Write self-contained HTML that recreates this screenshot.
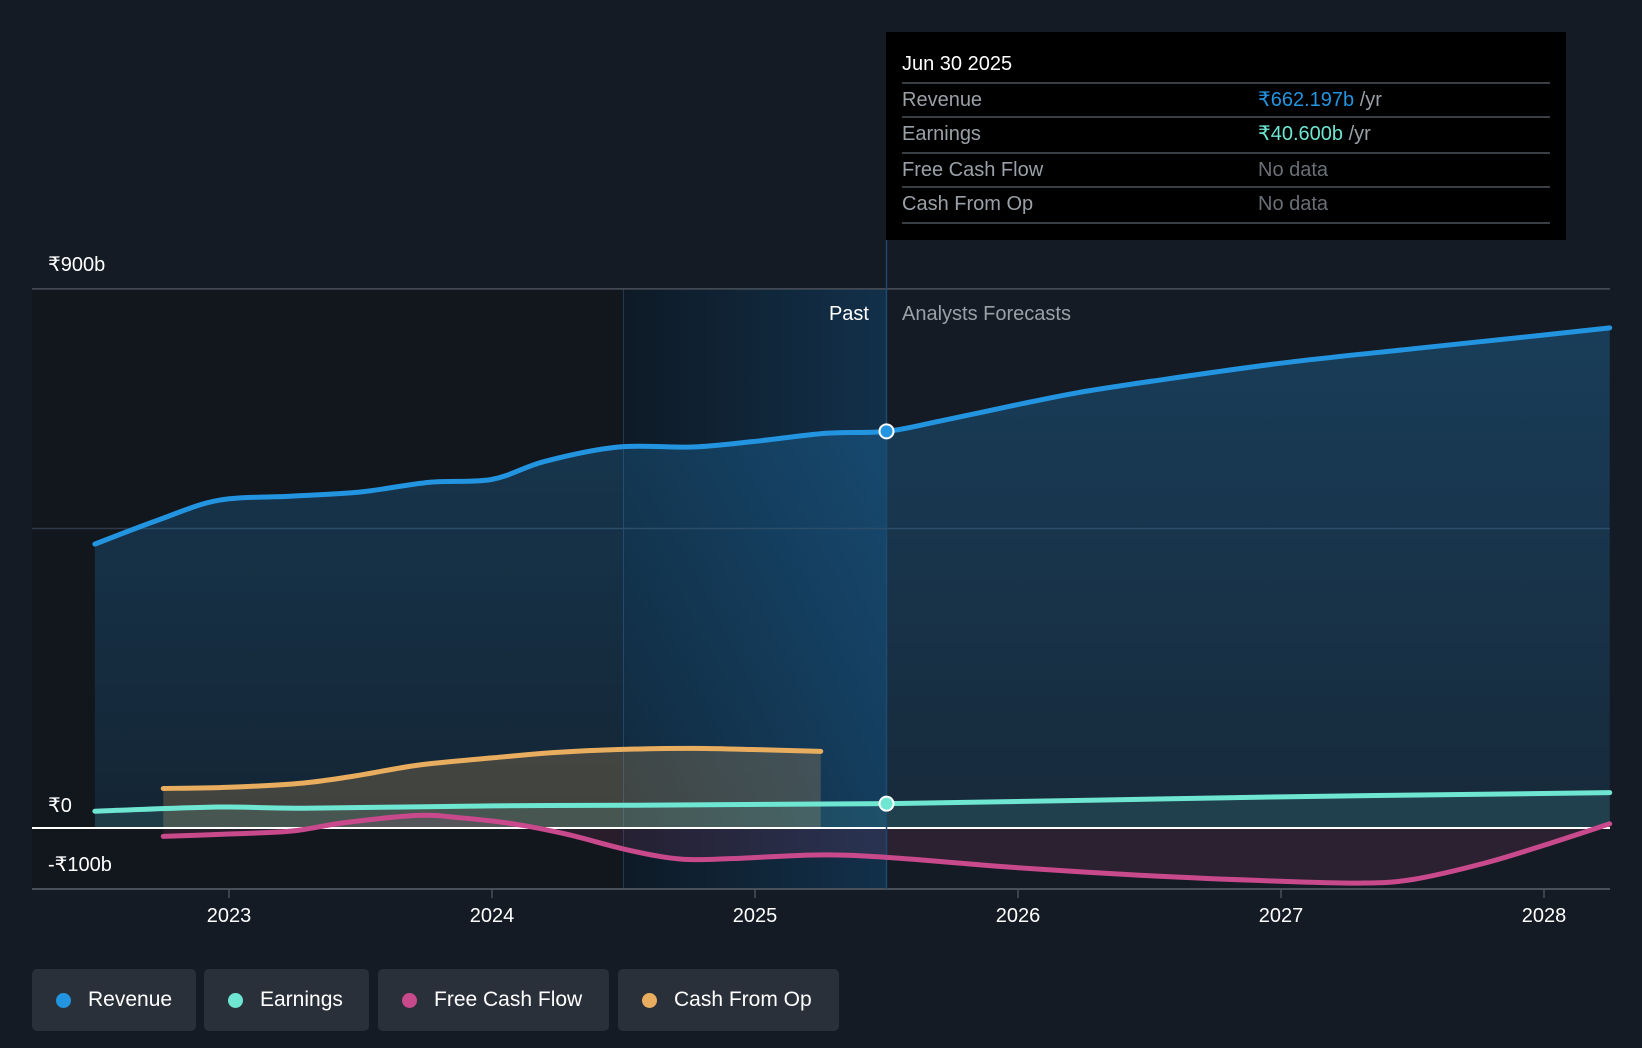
<!DOCTYPE html>
<html><head><meta charset="utf-8">
<style>
body{margin:0;background:#151b24;width:1642px;height:1048px;overflow:hidden;font-family:"Liberation Sans",sans-serif;}
svg{position:absolute;left:0;top:0}
.legend{position:absolute;top:969px;height:62px;background:#2a303a;border-radius:5px;color:#fff;font-size:21px;line-height:62px;box-sizing:border-box;padding-left:56px}
.legend i{position:absolute;left:24px;top:24px;width:15px;height:15px;border-radius:50%}
</style></head><body>
<svg id="chart" width="1642" height="1048"></svg>
<div class="legend" style="left:32px;width:164px"><i style="background:#2394e0"></i>Revenue</div>
<div class="legend" style="left:204px;width:165px"><i style="background:#6ee6d2"></i>Earnings</div>
<div class="legend" style="left:378px;width:231px"><i style="background:#c94a8c"></i>Free Cash Flow</div>
<div class="legend" style="left:618px;width:221px"><i style="background:#e8ad5e"></i>Cash From Op</div>
<script>
const revT=[2022.49,2022.73,2022.96,2023.24,2023.5,2023.76,2024.0,2024.2,2024.48,2024.76,2024.99,2025.27,2025.5,2025.71,2025.99,2026.23,2026.51,2027.0,2027.5,2028.0,2028.25];
const revV=[474,514,547,554,561,577,582,612,636,636,645,659,662.197,680,706,727,746,776,800,823,835];
const earnT=[2022.49,2022.96,2023.28,2024.0,2024.52,2025.5,2027.0,2028.25];
const earnV=[28,35,33,37,38,40.6,52,59];
const fcfT=[2022.75,2023.0,2023.24,2023.44,2023.72,2023.88,2024.08,2024.28,2024.52,2024.72,2024.92,2025.23,2025.5,2025.99,2026.51,2027.0,2027.3,2027.5,2027.78,2028.02,2028.25];
const fcfV=[-14,-10,-5,9,21,17,7,-10,-37,-52,-51,-45,-49,-66,-80,-89,-92,-86,-58,-26,7];
const cfoT=[2022.75,2023.0,2023.28,2023.48,2023.72,2024.0,2024.24,2024.48,2024.76,2024.99,2025.25];
const cfoV=[66,68,75,87,105,117,126,131,133,131,128];
const yearTicks=[2023,2024,2025,2026,2027,2028];
const yTickVals=[900,0,-100];
const yTickLabels=["₹900b","₹0","-₹100b"];
const gridVals=[900,500];
const nowT=2025.5, highlightStart=2024.5;

const X=t=>229+(t-2023)*263;
const Y=v=>828-v*0.599;
const svg=document.getElementById('chart');
const NS='http://www.w3.org/2000/svg';
function mk(tag,attrs,parent){const e=document.createElementNS(NS,tag);for(const k in attrs)e.setAttribute(k,attrs[k]);(parent||svg).appendChild(e);return e;}
function smooth(T,V){const p=T.map((t,i)=>[X(t),Y(V[i])]);let d=`M${p[0][0]},${p[0][1]}`;
 for(let i=0;i<p.length-1;i++){const p0=p[i-1]||p[i],p1=p[i],p2=p[i+1],p3=p[i+2]||p2;
  const c1=[p1[0]+(p2[0]-p0[0])/6,p1[1]+(p2[1]-p0[1])/6],c2=[p2[0]-(p3[0]-p1[0])/6,p2[1]-(p3[1]-p1[1])/6];
  d+=`C${c1[0]},${c1[1]} ${c2[0]},${c2[1]} ${p2[0]},${p2[1]}`;}return d;}
function area(T,V){return smooth(T,V)+`L${X(T[T.length-1])},${Y(0)}L${X(T[0])},${Y(0)}Z`;}

const defs=mk('defs',{});
defs.innerHTML=`<linearGradient id="hl" x1="0" x2="1"><stop offset="0" stop-color="#0e1a26"/><stop offset="1" stop-color="#12304a"/></linearGradient>
<linearGradient id="revf" x1="0" y1="0" x2="0" y2="1"><stop offset="0" stop-color="#2394e0" stop-opacity="0.28"/><stop offset="1" stop-color="#2394e0" stop-opacity="0.12"/></linearGradient>`;
// past backgrounds
let r=mk('rect',{x:32,y:Y(900),width:X(highlightStart)-32,height:889-Y(900),fill:'#12161d'});

r=mk('rect',{x:X(highlightStart),y:Y(900),width:X(nowT)-X(highlightStart),height:889-Y(900),fill:'url(#hl)'});

mk('line',{x1:X(highlightStart),x2:X(highlightStart),y1:Y(900),y2:889,stroke:'#1e3a52','stroke-width':1});
// grid
gridVals.forEach(v=>{const l=mk('line',{x1:32,x2:1610,y1:Y(v),y2:Y(v),stroke:v==900?'#4a5058':'#2e3a48','stroke-width':1.5});
});
// areas
let a=mk('path',{d:area(revT,revV),fill:'url(#revf)'});
a=mk('path',{d:area(cfoT,cfoV),fill:'#e8ad5e','fill-opacity':0.22});
a=mk('path',{d:area(fcfT,fcfV),fill:'#c94a8c','fill-opacity':0.13});
a=mk('path',{d:area(earnT,earnV),fill:'#6ee6d2','fill-opacity':0.12});
// zero line & axis
let z=mk('line',{x1:32,x2:1610,y1:Y(0),y2:Y(0),stroke:'#ffffff','stroke-width':2});
z=mk('line',{x1:32,x2:1610,y1:889,y2:889,stroke:'#4a5058','stroke-width':2});
// now line
z=mk('line',{x1:X(nowT),x2:X(nowT),y1:240,y2:889,stroke:'#1f4a6e','stroke-width':1.5});
// lines
[[cfoT,cfoV,'#e8ad5e','cfo-line'],[fcfT,fcfV,'#c94a8c','fcf-line'],[earnT,earnV,'#6ee6d2','earnings-line'],[revT,revV,'#2394e0','revenue-line']].forEach(s=>{
 const p=mk('path',{d:smooth(s[0],s[1]),fill:'none',stroke:s[2],'stroke-width':5,'stroke-linecap':'round'});
 });
// markers
let c=mk('circle',{cx:X(nowT),cy:Y(revV[revT.indexOf(nowT)]),r:7,fill:'#2394e0',stroke:'#fff','stroke-width':2});

c=mk('circle',{cx:X(nowT),cy:Y(earnV[earnT.indexOf(nowT)]),r:7,fill:'#6ee6d2',stroke:'#fff','stroke-width':2});

// ticks
yearTicks.forEach(t=>{
 const l=mk('line',{x1:X(t),x2:X(t),y1:889,y2:898,stroke:'#4a5058','stroke-width':1.5});
 
 const tx=mk('text',{x:X(t),y:922,fill:'#fff','font-size':20,'text-anchor':'middle'});tx.textContent=t;
 });
const yLabY=[271,812,871];
yTickVals.forEach((v,i)=>{const tx=mk('text',{x:48,y:yLabY[i],fill:'#fff','font-size':20});tx.textContent=yTickLabels[i];
 });
let t=mk('text',{x:869,y:320,fill:'#fff','font-size':20,'text-anchor':'end'});t.textContent='Past';
t=mk('text',{x:902,y:320,fill:'#9aa0a8','font-size':20});t.textContent='Analysts Forecasts';
// tooltip
const g=mk('g',{});
mk('rect',{x:886,y:32,width:680,height:208,fill:'#000'},g);
t=mk('text',{x:902,y:70,fill:'#fff','font-size':20},g);t.textContent='Jun 30 2025';
const rows=[['Revenue','₹662.197b','#2394e0'],['Earnings','₹40.600b','#6ee6d2'],['Free Cash Flow','No data',null],['Cash From Op','No data',null]];
const sepY=[83,117,153,187,223];
sepY.forEach(y=>mk('line',{x1:902,x2:1550,y1:y,y2:y,stroke:'#3a3f46','stroke-width':2},g));
rows.forEach((rw,i)=>{const y=[106,140,176,210][i];
 const a=mk('text',{x:902,y:y,fill:'#9aa0a8','font-size':20},g);a.textContent=rw[0];
 const b=mk('text',{x:1258,y:y,fill:rw[2]||'#6a6f76','font-size':20},g);
 if(rw[2]){b.innerHTML=`<tspan fill="${rw[2]}">${rw[1]}</tspan><tspan fill="#9aa0a8"> /yr</tspan>`;}else b.textContent=rw[1];});
</script>
</body></html>
